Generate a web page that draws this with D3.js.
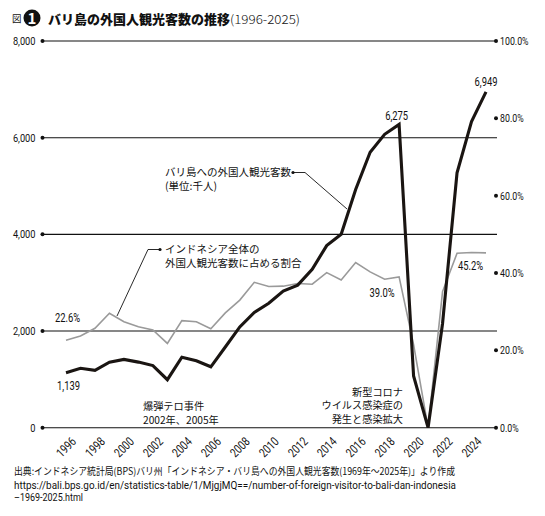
<!DOCTYPE html>
<html>
<head>
<meta charset="utf-8">
<script src="https://cdn.jsdelivr.net/npm/d3@7"></script>
<style>
  body { margin: 0; background: #fff; }
  .num { font-family: Roboto, "DejaVu Sans", sans-serif; }
  .jp { font-family: "Noto Sans CJK JP", sans-serif; }
</style>
</head>
<body>
<div id="chart"></div>
<script>
// Data: foreign visitors to Bali (thousands) and Bali share of Indonesia total (%)
const years = [1996, 1997, 1998, 1999, 2000, 2001, 2002, 2003, 2004, 2005,
  2006, 2007, 2008, 2009, 2010, 2011, 2012, 2013, 2014, 2015,
  2016, 2017, 2018, 2019, 2020, 2021, 2022, 2023, 2024, 2025];
const visitors = [1139, 1230, 1187, 1356, 1413, 1357, 1286, 993, 1458, 1386,
  1260, 1669, 2085, 2385, 2576, 2827, 2949, 3279, 3767, 4002,
  4928, 5698, 6070, 6275, 1069, 0.05, 2156, 5273, 6333, 6949];
const share = [22.6, 23.7, 25.7, 29.6, 27.4, 26.1, 25.3, 21.8, 27.7, 27.4,
  25.6, 29.7, 33.0, 37.6, 36.5, 36.6, 37.3, 37.1, 40.1, 38.2,
  42.7, 40.3, 38.4, 39.0, 21.5, 0.0, 35.2, 45.1, 45.3, 45.2];
const leftTicks = [0, 2000, 4000, 6000, 8000];
const rightTicks = [0, 20, 40, 60, 80, 100];
const yearTicks = [1996, 1998, 2000, 2002, 2004, 2006, 2008, 2010,
  2012, 2014, 2016, 2018, 2020, 2022, 2024];

const width = 545, height = 516;
const axisLeftX = 42.5, axisRightX = 496;

const svg = d3.select("#chart")
  .append("svg")
  .attr("width", width)
  .attr("height", height);

// squeeze text horizontally to mimic the condensed face of the original
function condense(sel, k) {
  sel.each(function() {
    const w = this.getComputedTextLength();
    d3.select(this).attr("textLength", w * k).attr("lengthAdjust", "spacingAndGlyphs");
  });
}

// Scales
const x = d3.scaleLinear().domain([1996, 2025]).range([66, 486]);
const yL = d3.scaleLinear().domain([0, 8000]).range([427.7, 41]);
const yR = d3.scaleLinear().domain([0, 100]).range([427.7, 41]);

// Title
svg.append("text").attr("class", "jp")
  .attr("x", 12).attr("y", 22)
  .style("font-size", "9.5px")
  .attr("fill", "#111")
  .text("図");
svg.append("circle").attr("cx", 32).attr("cy", 18).attr("r", 8.5).attr("fill", "#111");
svg.append("text").attr("class", "jp")
  .attr("x", 32).attr("y", 23.5).attr("text-anchor", "middle")
  .attr("fill", "#fff")
  .style("font-size", "15px").style("font-weight", "700")
  .text("1");
svg.append("text").attr("class", "jp")
  .attr("x", 48).attr("y", 24)
  .style("font-size", "13px").style("font-weight", "900")
  .attr("fill", "#111")
  .text("バリ島の外国人観光客数の推移");
svg.append("text").attr("class", "jp")
  .attr("x", 230).attr("y", 24)
  .style("font-size", "12.5px").style("font-weight", "300")
  .attr("fill", "#111")
  .attr("textLength", 70).attr("lengthAdjust", "spacingAndGlyphs")
  .text("(1996-2025)");

// Horizontal lines (left axis grid)
svg.append("g")
  .selectAll("line")
  .data(leftTicks)
  .join("line")
  .attr("x1", axisLeftX)
  .attr("x2", d => (d === 0 || d === 8000) ? axisRightX : axisRightX + 1)
  .attr("y1", d => yL(d))
  .attr("y2", d => yL(d))
  .attr("stroke", "#111")
  .attr("stroke-width", 1.1);

// Left tick dots
svg.append("g")
  .selectAll("circle")
  .data(leftTicks)
  .join("circle")
  .attr("cx", axisLeftX)
  .attr("cy", d => yL(d))
  .attr("r", 2)
  .attr("fill", "#111");

// Right tick dots
svg.append("g")
  .selectAll("circle")
  .data(rightTicks)
  .join("circle")
  .attr("cx", axisRightX)
  .attr("cy", d => yR(d))
  .attr("r", 2)
  .attr("fill", "#111");

// Left axis labels
const gL = svg.append("g")
  .attr("transform", `translate(${axisLeftX - 2},0)`)
  .call(d3.axisLeft(yL).tickValues(leftTicks).tickFormat(d3.format(",")).tickSize(0).tickPadding(5));
gL.select(".domain").remove();
gL.selectAll("text").attr("class", "num").style("font-size", "11px").attr("fill", "#111")
  .call(condense, 0.84);

// Right axis labels
const gR = svg.append("g")
  .attr("transform", `translate(${axisRightX + 1},0)`)
  .call(d3.axisRight(yR).tickValues(rightTicks).tickFormat(d => d3.format(".1f")(d) + "%").tickSize(0).tickPadding(3));
gR.select(".domain").remove();
gR.selectAll("text").attr("class", "num").style("font-size", "11px").attr("fill", "#111")
  .call(condense, 0.8);

// X axis labels, rotated 45 degrees
svg.append("g")
  .selectAll("text")
  .data(yearTicks)
  .join("text")
  .attr("class", "num")
  .attr("transform", d => `translate(${x(d)},447) rotate(-45)`)
  .attr("text-anchor", "middle")
  .attr("dy", "0.36em")
  .style("font-size", "12.5px")
  .attr("fill", "#111")
  .text(d => d)
  .call(condense, 0.78);

// Lines
const lineL = d3.line().x((d, i) => x(years[i])).y(d => yL(d));
const lineR = d3.line().x((d, i) => x(years[i])).y(d => yR(d));

svg.append("path")
  .datum(share)
  .attr("d", lineR)
  .attr("fill", "none")
  .attr("stroke", "#9a9a9a")
  .attr("stroke-width", 1.6);

svg.append("path")
  .datum(visitors)
  .attr("d", lineL)
  .attr("fill", "none")
  .attr("stroke", "#1a1512")
  .attr("stroke-width", 3.1);

// Value labels
const valueLabels = [
  { text: "1,139", x: x(1996) + 2.5, y: yL(1139) + 17.5 },
  { text: "22.6%", x: x(1996) + 1.5, y: yR(22.6) - 18 },
  { text: "6,275", x: x(2019) - 2.5, y: yL(6275) - 4.5 },
  { text: "6,949", x: x(2025), y: yL(6949) - 6 },
  { text: "39.0%", x: x(2019) - 17, y: yR(39.0) + 20 },
  { text: "45.2%", x: x(2024) - 1, y: yR(45.2) + 17 }
];
svg.append("g")
  .selectAll("text")
  .data(valueLabels)
  .join("text")
  .attr("class", "num")
  .attr("x", d => d.x)
  .attr("y", d => d.y)
  .attr("text-anchor", "middle")
  .style("font-size", "12.5px")
  .attr("fill", "#111")
  .text(d => d.text)
  .call(condense, 0.75);

// Annotations
function multiline(lines, x0, y0, anchor, lh, fs) {
  svg.append("g")
    .selectAll("text")
    .data(lines)
    .join("text")
    .attr("class", "jp")
    .attr("x", x0)
    .attr("y", (d, i) => y0 + i * lh)
    .attr("text-anchor", anchor)
    .style("font-size", fs + "px")
    .attr("fill", "#111")
    .text(d => d);
}

multiline(["バリ島への外国人観光客数", "(単位:千人)"], 165, 176, "start", 13.5, 10.5);
multiline(["インドネシア全体の", "外国人観光客数に占める割合"], 165, 253, "start", 13.5, 10.5);
multiline(["爆弾テロ事件", "2002年、2005年"], 143, 410, "start", 13.5, 10.2);
multiline(["新型コロナ", "ウイルス感染症の", "発生と感染拡大"], 403, 395.5, "end", 13.5, 10.2);

// Leader lines
const leaders = [
  [[293, 172.5], [305, 172.5], [347, 209]],
  [[160, 249.5], [148, 249.5], [117, 316]]
];
svg.append("g")
  .selectAll("path")
  .data(leaders)
  .join("path")
  .attr("d", d => d3.line()(d))
  .attr("fill", "none")
  .attr("stroke", "#111")
  .attr("stroke-width", 0.9);
svg.append("g")
  .selectAll("circle")
  .data(leaders)
  .join("circle")
  .attr("cx", d => d[0][0])
  .attr("cy", d => d[0][1])
  .attr("r", 1.6)
  .attr("fill", "#111");

// Source
svg.append("text").attr("class", "jp")
  .attr("x", 14).attr("y", 475)
  .style("font-size", "10px")
  .attr("fill", "#111")
  .attr("textLength", 441).attr("lengthAdjust", "spacingAndGlyphs")
  .text("出典:インドネシア統計局(BPS)バリ州「インドネシア・バリ島への外国人観光客数(1969年〜2025年)」より作成");
svg.append("text").attr("class", "num")
  .attr("x", 14).attr("y", 488.5)
  .style("font-size", "10.5px")
  .attr("fill", "#111")
  .attr("textLength", 442).attr("lengthAdjust", "spacingAndGlyphs")
  .text("https://bali.bps.go.id/en/statistics-table/1/MjgjMQ==/number-of-foreign-visitor-to-bali-dan-indonesia");
svg.append("text").attr("class", "num")
  .attr("x", 14).attr("y", 501)
  .style("font-size", "10.5px")
  .attr("fill", "#111")
  .attr("textLength", 69).attr("lengthAdjust", "spacingAndGlyphs")
  .text("–1969-2025.html");
</script>
</body>
</html>
